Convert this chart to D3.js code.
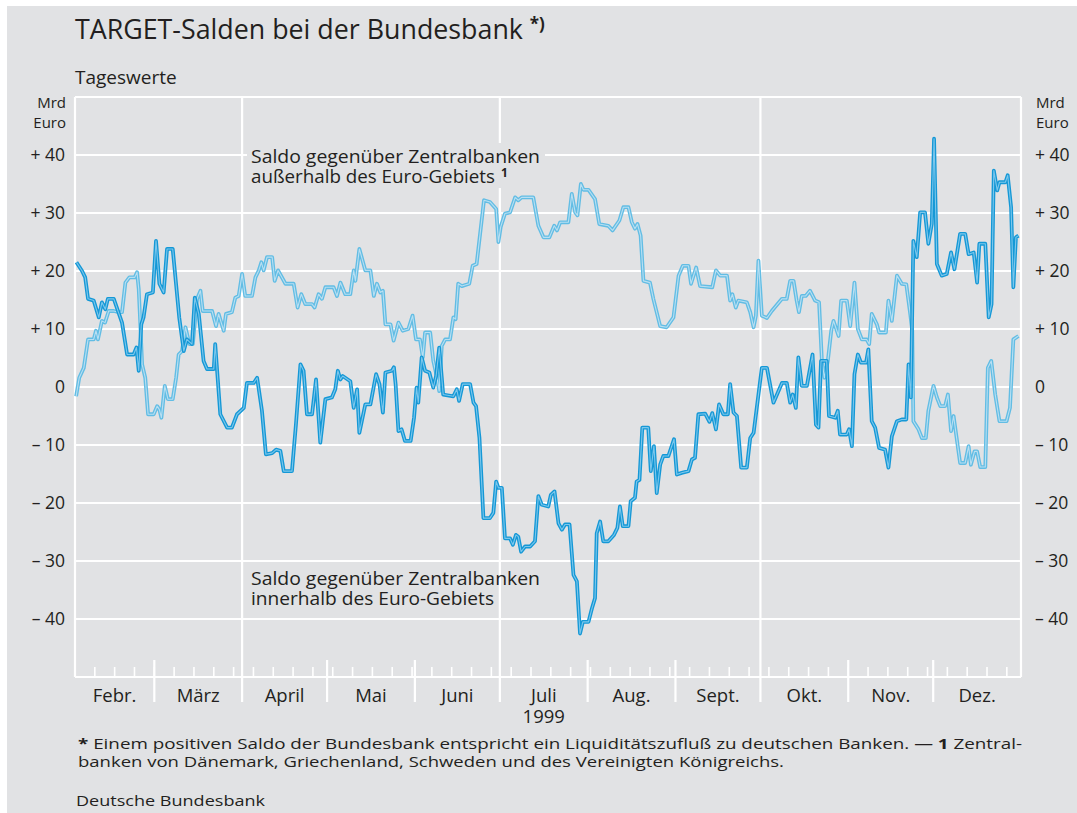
<!DOCTYPE html>
<html>
<head>
<meta charset="utf-8">
<script src="https://cdn.jsdelivr.net/npm/d3@7"></script>
<style>
  body { margin: 0; background: #ffffff; }
  svg { display: block; font-family: "Open Sans", "Noto Sans", sans-serif; }
</style>
</head>
<body>
<div id="wrapper"></div>
<script>
// Tage seit dem 1. Februar 1999 und Werte (Mrd Euro)
const innenTage = [0.5, 2.5, 3.6, 4.6, 6.6, 8.4, 9.5, 10.7, 11.6, 13.7, 16.6, 18.4, 20.7, 21.7, 22.5, 23.4, 24.2, 25.4, 27.5, 28.6, 29.8, 31.3, 32.5, 34.5, 36.8, 38.4, 39.5, 41.3, 42.3, 43.7, 45.4, 46.6, 49, 49.5, 51.3, 53.7, 55.4, 57.2, 59.6, 60.7, 63.1, 64.3, 66, 67.4, 69.6, 71, 72.5, 73.7, 76.6, 78, 79.6, 80.7, 81.9, 83.7, 85.1, 86.6, 88.4, 90.7, 91.9, 92.8, 93.7, 94.5, 97.2, 98.4, 99.6, 100.4, 102.5, 104.3, 106.3, 107.5, 108.7, 109.6, 111.9, 112.6, 113.2, 114.2, 115.3, 116.5, 118.5, 119.7, 120.6, 121.2, 122.4, 123.6, 125.1, 126.5, 127.5, 128.6, 130, 133.6, 134.8, 135.6, 136.9, 139.5, 140.7, 141.6, 142.8, 144.2, 146.5, 147.7, 148.7, 149.5, 150.7, 151.8, 153.6, 154.6, 155.7, 156.5, 157.5, 158.9, 160.7, 162.4, 163.6, 164.8, 167.1, 168, 169.3, 170.7, 171.9, 173, 174.6, 176, 177.2, 178.3, 179.3, 181.3, 182.5, 183.6, 184.2, 185.4, 186.5, 188.3, 190.3, 191.5, 192.4, 193.4, 195.4, 196.2, 197.7, 198.3, 199.3, 200.3, 202.4, 203.3, 204.4, 205.4, 206.6, 207.7, 209.5, 211.5, 212.5, 214.2, 216.6, 217.8, 218.9, 220.1, 222.5, 224, 225, 226.3, 227.4, 228.9, 230.5, 231.3, 232.5, 233.7, 235.2, 237.2, 238.4, 239.6, 242.5, 244.3, 246.6, 249.6, 251.3, 252.5, 253.4, 254.5, 255.4, 256.6, 258.4, 260.4, 261.6, 262.5, 263.4, 265.4, 266.2, 268.4, 269.3, 270.1, 272.5, 273.3, 274.3, 275.2, 276.4, 277.5, 279.3, 280.1, 281.3, 282.5, 283.9, 286, 287.2, 288.4, 290.2, 291.9, 293.5, 294.3, 295.1, 296, 297.2, 298.4, 300.1, 301.3, 302.5, 303.3, 304.3, 306, 307.8, 309.3, 310.5, 312.5, 314.3, 315.5, 317.3, 318.5, 319.3, 321.4, 322.6, 323.6, 324.4, 325.6, 326.4, 328.5, 329.3, 330.5, 331.3, 332.2, 333.1]
const innenWerte = [21.5, 20, 18.9, 15.2, 14.9, 12, 14.6, 13.4, 15.2, 15.2, 11.1, 5.6, 5.6, 6.8, 2.8, 10.8, 12, 16, 16.3, 25.2, 17.8, 16.3, 23.8, 23.8, 12, 6.2, 8.2, 7.4, 15.4, 12.6, 4.5, 3.1, 3.1, 7.4, -4.7, -7, -7, -4.7, -3.6, 0.7, 0.7, 1.6, -4.1, -11.6, -11.4, -10.8, -11, -14.5, -14.5, -6.5, 3.9, 2.8, -4.7, -4.7, 1.3, -9.6, -2.1, -1.8, -0.4, 2.8, 1.3, 1.9, 1, -3.6, -0.4, -7.9, -3, -3, 2.2, 0.5, -4.4, 2.5, 2.8, 3.4, 0.5, -7.6, -7.3, -9.3, -9.3, -5.3, -0.1, -2.7, 5.1, 2.8, 2.5, -0.1, 1.9, 6.8, -1.3, -1.6, -0.4, -2.4, 0.5, 0.5, -2.7, -3.3, -8.8, -22.6, -22.6, -21.7, -16.3, -17.4, -17.4, -26.1, -26.1, -27.2, -25.5, -25.8, -28.4, -27.5, -27.5, -26.6, -18.8, -20.3, -20.6, -18.6, -18, -23.5, -24.6, -23.7, -23.7, -32.4, -33.5, -42.5, -40.5, -40.5, -38.2, -36.4, -25.2, -23.2, -26.6, -26.6, -25.5, -24.3, -20.6, -24, -24, -19.7, -19.1, -16.3, -16, -7, -7, -14.5, -10.2, -18.3, -13.4, -11.9, -11.9, -9, -15.1, -14.8, -14.5, -12.5, -12.2, -4.7, -4.6, -6, -4.5, -7.3, -3, -4.7, -4.7, 0.5, -4.4, -5, -13.9, -13.9, -8.8, -7.9, 3.3, 3.3, -2.7, 0.7, 0.7, -2.7, -1.3, -3.6, 5.1, 0.2, 0.2, 5.6, -6.5, -7, 4.5, 4.5, -5, -5.3, -4.1, -8.2, -8.2, -7.3, -10.2, 2.2, 5.6, 4.2, 4.2, 6.5, -5.9, -7, -10.5, -10.8, -13.9, -8.5, -5.9, -5.6, -5.6, 3.9, -1.8, 25.2, 22.4, 30.1, 30.1, 24.7, 28.1, 42.8, 21.2, 19.2, 19.5, 23.2, 20.3, 26.4, 26.4, 22.9, 23.2, 18, 24.7, 24.7, 12, 14.3, 37.3, 33.9, 35.3, 35.3, 36.5, 31, 17.2, 25.8, 26.1]

const aussenTage = [0.4, 1.5, 3.1, 4.6, 6.6, 7.4, 8.1, 9.5, 10.6, 11.9, 13.7, 15.4, 16.6, 17.8, 19.2, 21.1, 21.9, 22.5, 23.7, 24.8, 25.8, 27.8, 29, 29.8, 30.5, 31.7, 32.8, 34.5, 35.7, 36.6, 37.8, 39, 40.4, 41.6, 43.1, 44.3, 45.1, 48.4, 49.8, 50.7, 52.5, 53.3, 55.4, 56.6, 57.8, 59, 60.1, 62.5, 63.7, 64.9, 65.8, 66.6, 67.8, 69.6, 70.5, 71.7, 74.3, 77.2, 78.6, 79.9, 81.3, 83.7, 84.6, 86, 87.2, 88.4, 91.3, 92.5, 93.7, 95.4, 97.2, 98.4, 99, 100.4, 102.5, 104.3, 105.5, 106.6, 107.8, 108.7, 109.6, 111.4, 112.5, 114.2, 115.7, 117.7, 119.2, 120.4, 121.8, 122.8, 123.6, 125.4, 126.5, 127.7, 128.6, 129.5, 130.7, 132.4, 133.6, 134.4, 135.3, 136.6, 139.2, 140.4, 141.8, 144.4, 146.5, 148.7, 149.5, 150.3, 151.8, 153.6, 155.4, 156.5, 157.7, 161.8, 163.6, 165.4, 167.5, 169.2, 170.2, 171.3, 174.2, 175.4, 176.6, 177.4, 178.6, 179.5, 181.3, 183.6, 185.1, 188.3, 189.8, 192.2, 193.6, 195.4, 196.6, 197.7, 198.6, 199.7, 200.7, 203, 204.2, 206.6, 208.9, 211.3, 213.1, 214.6, 216.6, 217.5, 219.3, 220.7, 225, 226.3, 227.8, 230.2, 231.3, 232.1, 233.3, 234.2, 237.2, 238.4, 239.6, 240.4, 241.3, 242.5, 244.3, 246, 249.6, 251.3, 252.5, 253.7, 254.8, 255.6, 256.6, 258, 259.5, 261.3, 262.7, 263.7, 264.6, 265.8, 267, 267.8, 269.6, 270.5, 272.5, 273.7, 275.2, 276.4, 277.8, 279.5, 280.4, 281.3, 283.1, 283.9, 286.3, 287.2, 288.4, 290.2, 291.9, 293.5, 294.9, 295.6, 296, 297.8, 299, 300.4, 301.3, 303.1, 304.3, 305.5, 307.2, 308.2, 309.3, 310.2, 312.5, 314.3, 315.5, 316.3, 317.6, 318.5, 319.6, 321.4, 322.3, 323.5, 324.9, 326.4, 328.9, 330.1, 331.3, 333.1]
const aussenWerte = [-1.6, 1.6, 3.3, 8.2, 8.2, 9.7, 8.2, 11.4, 11.1, 13.1, 13.1, 12.9, 12.9, 18, 18.9, 18.9, 19.8, 16.9, 3.9, 1.6, -4.7, -4.7, -3.3, -3.9, -5.3, 0.2, -2.1, -2.1, 1.6, 5.6, 6.2, 10.3, 7.4, 7.4, 15.2, 16.6, 13.1, 13.1, 10.5, 12.6, 9.7, 12.6, 12.9, 15.4, 15.7, 19.5, 15.7, 15.7, 18.9, 20.1, 21.5, 20.1, 22.4, 22.4, 18.3, 20.1, 17.8, 17.8, 13.7, 16, 14.3, 14.3, 13.7, 16, 15.2, 17.2, 17.2, 15.7, 18, 16, 16, 20.1, 18.3, 23.8, 20.1, 20.1, 15.7, 17.8, 16.3, 16.6, 10.8, 10.8, 8, 11.1, 9.7, 10, 12.3, 8.2, 8.2, 5.1, 9.4, 9.4, 4.5, 1.9, -0.7, 7.1, 8.2, 8.2, 12, 11.7, 17.8, 17.4, 17.8, 20.9, 21.2, 32.2, 31.9, 30.7, 25, 27.6, 29.9, 30.1, 32.7, 32.2, 32.7, 32.7, 27.8, 25.8, 25.8, 27.8, 27, 28.4, 28.4, 33.3, 30.1, 29.6, 35, 34, 34, 32.4, 28.1, 27.8, 27, 28.7, 31, 31, 28.4, 27.3, 28.1, 26.1, 18.3, 18, 15.2, 10.5, 10.3, 12, 19.2, 20.9, 20.9, 17.8, 20.6, 17.4, 17.2, 20.1, 19.2, 19.2, 14.9, 16, 13.7, 14.9, 14.6, 12.9, 10.3, 12.3, 21.8, 12.3, 11.9, 13.1, 15.2, 15.2, 18.3, 18.3, 14.9, 12.9, 15.7, 15.7, 16.6, 14.9, 14.6, 4.5, 1.6, 4.5, 9.7, 11.4, 8.8, 14.9, 14.9, 10.5, 18, 10, 8.2, 8.2, 7.4, 12.6, 10.8, 9.4, 9.4, 14.9, 11.4, 19.2, 17.8, 17.7, 12.6, 9.7, -5.9, -7.3, -8.8, -8.8, -4.1, 0.2, -1.8, -3.3, -3.3, -1.3, -7.6, -5, -13.1, -13.1, -10.2, -13.4, -11.1, -11.1, -13.8, -13.8, 3.3, 4.5, -1.3, -5.9, -5.9, -3.6, 8.2, 8.8]

const monate = ["Febr.", "März", "April", "Mai", "Juni", "Juli", "Aug.", "Sept.", "Okt.", "Nov.", "Dez."]
const yWerte = [40, 30, 20, 10, 0, -10, -20, -30, -40]
const yBeschriftung = ["+ 40", "+ 30", "+ 20", "+ 10", "0", "\u2013 10", "\u2013 20", "\u2013 30", "\u2013 40"]

function drawChart() {
  // 1. Abmessungen
  const dimensions = {
    width: 1077,
    height: 813,
    margin: { top: 97, right: 56, bottom: 136, left: 75 },
  }
  dimensions.boundedWidth = dimensions.width - dimensions.margin.left - dimensions.margin.right
  dimensions.boundedHeight = dimensions.height - dimensions.margin.top - dimensions.margin.bottom

  const bg = "#e1e2e4"
  const textColor = "#231f20"

  // 2. Daten
  const start = new Date(1999, 1, 1)
  const end = new Date(2000, 0, 1)
  const toDate = t => new Date(start.getTime() + t * 864e5)
  const innen = innenTage.map((t, i) => ({ date: toDate(t), value: innenWerte[i] }))
  const aussen = aussenTage.map((t, i) => ({ date: toDate(t), value: aussenWerte[i] }))

  // 3. Skalen
  const xScale = d3.scaleTime()
    .domain([start, end])
    .range([0, dimensions.boundedWidth])

  const yScale = d3.scaleLinear()
    .domain([-50, 50])
    .range([dimensions.boundedHeight, 0])

  // 4. SVG
  const wrapper = d3.select("#wrapper")
    .append("svg")
      .attr("width", dimensions.width)
      .attr("height", dimensions.height)

  wrapper.append("rect")
    .attr("x", 7).attr("y", 6)
    .attr("width", dimensions.width - 7).attr("height", dimensions.height - 6)
    .attr("fill", bg)

  const bounds = wrapper.append("g")
    .attr("transform", `translate(${dimensions.margin.left},${dimensions.margin.top})`)

  // Gitterlinien
  bounds.selectAll(".hgrid")
    .data(yWerte.concat([50, -50]))
    .join("line")
      .attr("x1", 0).attr("x2", dimensions.boundedWidth)
      .attr("y1", d => yScale(d)).attr("y2", d => yScale(d))
      .attr("stroke", "#fff").attr("stroke-width", 2.2)

  bounds.append("line")
    .attr("x1", 0).attr("x2", 0)
    .attr("y1", 0).attr("y2", dimensions.boundedHeight)
    .attr("stroke", "#fff").attr("stroke-width", 2.2)
  bounds.append("line")
    .attr("x1", dimensions.boundedWidth).attr("x2", dimensions.boundedWidth)
    .attr("y1", 0).attr("y2", dimensions.boundedHeight)
    .attr("stroke", "#fff").attr("stroke-width", 2.2)

  // Monatsgrenzen und Wochenstriche
  const monatsAnfang = d3.timeMonth.range(new Date(1999, 2, 1), end)
  const quartale = [3, 6, 9]
  bounds.selectAll(".monat")
    .data(monatsAnfang)
    .join("line")
      .attr("x1", d => xScale(d)).attr("x2", d => xScale(d))
      .attr("y1", d => quartale.includes(d.getMonth()) ? 0 : dimensions.boundedHeight - 17)
      .attr("y2", dimensions.boundedHeight + 25)
      .attr("stroke", "#fff").attr("stroke-width", 2.2)

  bounds.selectAll(".woche")
    .data(d3.timeMonday.range(start, end))
    .join("line")
      .attr("x1", d => xScale(d)).attr("x2", d => xScale(d))
      .attr("y1", dimensions.boundedHeight - 10)
      .attr("y2", dimensions.boundedHeight)
      .attr("stroke", "#fff").attr("stroke-width", 1.6)

  // Hintergrund hinter der oberen Beschriftung
  bounds.append("rect")
    .attr("x", 172).attr("y", 46)
    .attr("width", 298).attr("height", 45)
    .attr("fill", bg)

  // Linien (Doppelstrich)
  const lineGenerator = d3.line()
    .x(d => xScale(d.date))
    .y(d => yScale(d.value))

  const serien = [
    { data: aussen, outer: "#62bde4", inner: "#b9dff2" },
    { data: innen, outer: "#1598d6", inner: "#7cc7ec" },
  ]
  serien.forEach(s => {
    bounds.append("path")
      .attr("d", lineGenerator(s.data))
      .attr("fill", "none").attr("stroke", s.outer)
      .attr("stroke-width", 3.8).attr("stroke-linejoin", "round")
    bounds.append("path")
      .attr("d", lineGenerator(s.data))
      .attr("fill", "none").attr("stroke", s.inner)
      .attr("stroke-width", 1.1).attr("stroke-linejoin", "round")
  })

  // Achsenbeschriftungen
  const yLabels = wrapper.append("g")
    .attr("font-size", 17.5).attr("fill", textColor)
  yLabels.selectAll(".links")
    .data(yWerte)
    .join("text")
      .attr("x", 65)
      .attr("y", d => dimensions.margin.top + yScale(d) + 6)
      .attr("text-anchor", "end")
      .text((d, i) => yBeschriftung[i])
  yLabels.selectAll(".rechts")
    .data(yWerte)
    .join("text")
      .attr("x", 1035)
      .attr("y", d => dimensions.margin.top + yScale(d) + 6)
      .text((d, i) => yBeschriftung[i])

  const einheitL = wrapper.append("text")
    .attr("font-size", 15).attr("fill", textColor).attr("text-anchor", "end")
  einheitL.append("tspan").attr("x", 66).attr("y", 108).text("Mrd")
  einheitL.append("tspan").attr("x", 66).attr("y", 128).text("Euro")
  const einheitR = wrapper.append("text")
    .attr("font-size", 15).attr("fill", textColor)
  einheitR.append("tspan").attr("x", 1036).attr("y", 108).text("Mrd")
  einheitR.append("tspan").attr("x", 1036).attr("y", 128).text("Euro")

  const monatsGrenzen = [start].concat(monatsAnfang, [end])
  wrapper.append("g")
    .attr("font-size", 18.5).attr("fill", textColor).attr("text-anchor", "middle")
    .selectAll("text")
    .data(monate)
    .join("text")
      .attr("x", (d, i) => dimensions.margin.left + (xScale(monatsGrenzen[i]) + xScale(monatsGrenzen[i + 1])) / 2)
      .attr("y", 702)
      .text(d => d)
  wrapper.append("text")
    .attr("x", dimensions.margin.left + (xScale(monatsGrenzen[5]) + xScale(monatsGrenzen[6])) / 2)
    .attr("y", 723)
    .attr("font-size", 18.5).attr("fill", textColor).attr("text-anchor", "middle")
    .text("1999")

  // Titel
  const title = wrapper.append("text")
    .attr("x", 75).attr("y", 39)
    .attr("font-size", 26.8).attr("fill", textColor)
  title.append("tspan").text("TARGET-Salden bei der Bundesbank ")
  title.append("tspan").attr("font-size", 17).attr("font-weight", "bold").attr("dy", -9).text("*)")

  wrapper.append("text")
    .attr("x", 75).attr("y", 84)
    .attr("font-size", 19).attr("fill", textColor)
    .text("Tageswerte")

  // Reihenbeschriftungen
  const reihen = wrapper.append("g").attr("font-size", 18).attr("fill", textColor)
  reihen.append("text").attr("x", 251).attr("y", 162.5)
    .attr("textLength", 289).attr("lengthAdjust", "spacingAndGlyphs")
    .text("Saldo gegenüber Zentralbanken")
  const zeile2 = reihen.append("text").attr("x", 251).attr("y", 183)
  zeile2.append("tspan").attr("textLength", 244).attr("lengthAdjust", "spacingAndGlyphs")
    .text("außerhalb des Euro-Gebiets")
  zeile2.append("tspan").attr("font-size", 12).attr("font-weight", "bold").attr("dx", 6).attr("dy", -6).text("1")
  reihen.append("text").attr("x", 251).attr("y", 584.5)
    .attr("textLength", 289).attr("lengthAdjust", "spacingAndGlyphs")
    .text("Saldo gegenüber Zentralbanken")
  reihen.append("text").attr("x", 251).attr("y", 605)
    .attr("textLength", 243).attr("lengthAdjust", "spacingAndGlyphs")
    .text("innerhalb des Euro-Gebiets")

  // Fußnote
  const fuss = wrapper.append("g").attr("font-size", 15).attr("fill", textColor)
  const f1 = fuss.append("text").attr("x", 78).attr("y", 749)
    .attr("textLength", 944).attr("lengthAdjust", "spacingAndGlyphs")
  f1.append("tspan").attr("font-weight", "bold").text("*")
  f1.append("tspan").text(" Einem positiven Saldo der Bundesbank entspricht ein Liquiditätszufluß zu deutschen Banken. \u2014 ")
  f1.append("tspan").attr("font-weight", "bold").text("1")
  f1.append("tspan").text(" Zentral-")
  fuss.append("text").attr("x", 78).attr("y", 767)
    .attr("textLength", 706).attr("lengthAdjust", "spacingAndGlyphs")
    .text("banken von Dänemark, Griechenland, Schweden und des Vereinigten Königreichs.")
  fuss.append("text").attr("x", 76).attr("y", 806)
    .attr("textLength", 189).attr("lengthAdjust", "spacingAndGlyphs")
    .text("Deutsche Bundesbank")
}

drawChart()
</script>
</body>
</html>
